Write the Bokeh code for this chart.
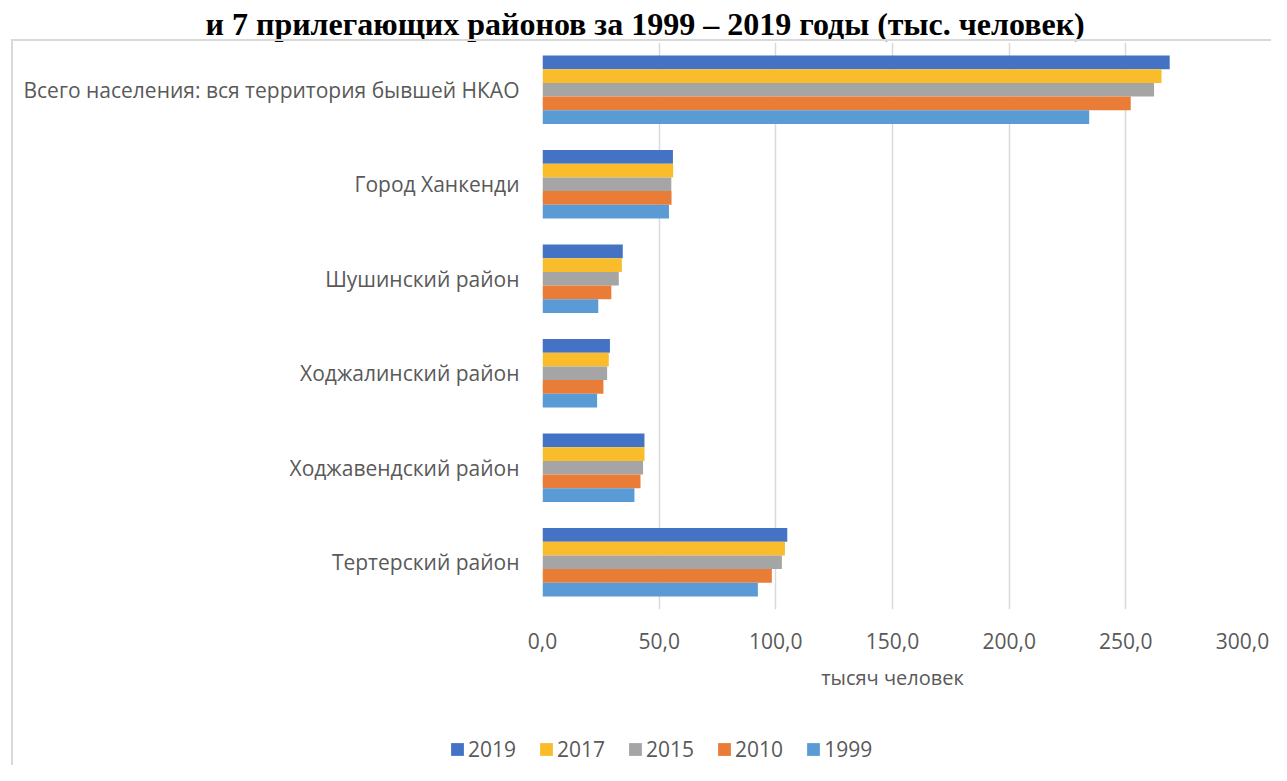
from bokeh.plotting import figure
from bokeh.models import (ColumnDataSource, FactorRange, Range1d, FixedTicker,
                          CustomJSTickFormatter, Legend, LegendItem, InlineStyleSheet)
from bokeh.transform import dodge
from bokeh.embed import file_html
from bokeh.resources import INLINE

title_text = "и 7 прилегающих районов за 1999 – 2019 годы (тыс. человек)"
categories = ["Всего населения: вся территория бывшей НКАО", "Город Ханкенди",
              "Шушинский район", "Ходжалинский район", "Ходжавендский район",
              "Тертерский район"]
years = ["2019", "2017", "2015", "2010", "1999"]
v2019 = [268.8, 55.9, 34.4, 28.9, 43.7, 104.9]
v2017 = [265.3, 56.0, 34.0, 28.4, 43.7, 103.9]
v2015 = [262.1, 55.2, 32.7, 27.7, 43.1, 102.6]
v2010 = [252.1, 55.3, 29.5, 26.1, 42.0, 98.3]
v1999 = [234.3, 54.2, 23.9, 23.4, 39.4, 92.3]
x_ticks = [0, 50, 100, 150, 200, 250, 300]
x_label = "тысяч человек"

colors = ["#4472C4", "#F9BC2B", "#A5A5A5", "#E97C36", "#5B9BD5"]
offsets = [0.29, 0.145, 0.0, -0.145, -0.29]

src = ColumnDataSource(dict(cat=categories, v2019=v2019, v2017=v2017, v2015=v2015,
                            v2010=v2010, v1999=v1999))

W = 1271
H1, H2 = 700, 65
p = figure(width=W, height=H1, output_backend="svg", toolbar_location=None,
           y_range=FactorRange(factors=list(reversed(categories))),
           x_range=Range1d(0, 300),
           min_border_left=542, min_border_right=29, min_border_top=42,
           min_border_bottom=H1 - 609)
p.outline_line_color = None
p.background_fill_color = None
p.border_fill_color = None

renderers = []
for yr, col, off in zip(years, colors, offsets):
    r = p.hbar(y=dodge("cat", off, range=p.y_range), right="v" + yr, left=0,
               height=0.145, source=src, fill_color=col, line_color=None)
    renderers.append(r)

font = "Open Sans"
grey = "#595959"
p.xaxis.ticker = FixedTicker(ticks=x_ticks)
p.xaxis.formatter = CustomJSTickFormatter(code="return tick.toFixed(1).replace('.', ',');")
p.xaxis.axis_line_color = None
p.xaxis.major_tick_line_color = None
p.xaxis.minor_tick_line_color = None
p.xaxis.major_label_text_font = font
p.xaxis.major_label_text_font_size = "21px"
p.xaxis.major_label_text_color = grey
p.xaxis.major_label_standoff = 17
p.xaxis.axis_label = x_label
p.xaxis.axis_label_text_font = font
p.xaxis.axis_label_text_font_style = "normal"
p.xaxis.axis_label_text_font_size = "20px"
p.xaxis.axis_label_text_color = grey
p.xaxis.axis_label_standoff = 12

p.yaxis.axis_line_color = None
p.yaxis.major_tick_line_color = None
p.yaxis.minor_tick_line_color = None
p.yaxis.major_label_text_font = font
p.yaxis.major_label_text_font_size = "21px"
p.yaxis.major_label_text_color = grey
p.yaxis.major_label_standoff = 17

p.xgrid.grid_line_color = "#d9d9d9"
p.xgrid.grid_line_width = 1.5
p.ygrid.grid_line_color = None

p.title.text = title_text
p.title.text_font = "Liberation Serif"
p.title.text_font_style = "bold"
p.title.text_font_size = "32px"
p.title.text_color = "black"
p.title.align = "left"
p.title.offset = -337
p.title.standoff = 1

p.stylesheets = [InlineStyleSheet(css="""
:host { position: relative; }
:host::after {
  content: ""; position: absolute; left: 11px; top: 39px; right: 0; bottom: 0;
  border-left: 2px solid #d9d9d9; border-top: 2px solid #d9d9d9;
  pointer-events: none;
}
""")]

# legend strip below the chart (separate root so its frame is not aligned)
p2 = figure(width=W, height=H2, output_backend="svg", toolbar_location=None,
            x_range=Range1d(0, 1), y_range=Range1d(0, 1),
            min_border=0, min_border_left=0, min_border_right=0,
            min_border_top=0, min_border_bottom=0)
p2.axis.visible = False
p2.grid.visible = False
p2.outline_line_color = None
p2.background_fill_color = None
p2.border_fill_color = None
leg_renderers = []
for yr, col in zip(years, colors):
    # legend proxy only (zero-size, outside the view)
    leg_renderers.append(p2.hbar(y=[-5], left=[0], right=[0], height=0.0,
                                 fill_color=col, line_color=None))

legend = Legend(items=[LegendItem(label=yr, renderers=[r]) for yr, r in zip(years, leg_renderers)],
                orientation="horizontal", location=(449, 2),
                glyph_width=16, glyph_height=16, label_standoff=3, spacing=22,
                padding=0, margin=0, border_line_color=None, background_fill_alpha=0,
                label_text_font=font, label_text_font_size="21px", label_text_color=grey)
p2.add_layout(legend)
p2.stylesheets = [InlineStyleSheet(css="""
:host { position: relative; }
:host::after {
  content: ""; position: absolute; left: 11px; top: 0; bottom: 0; width: 0;
  border-left: 2px solid #d9d9d9;
  pointer-events: none;
}
""")]

open("out.html", "w").write(file_html([p, p2], INLINE))
